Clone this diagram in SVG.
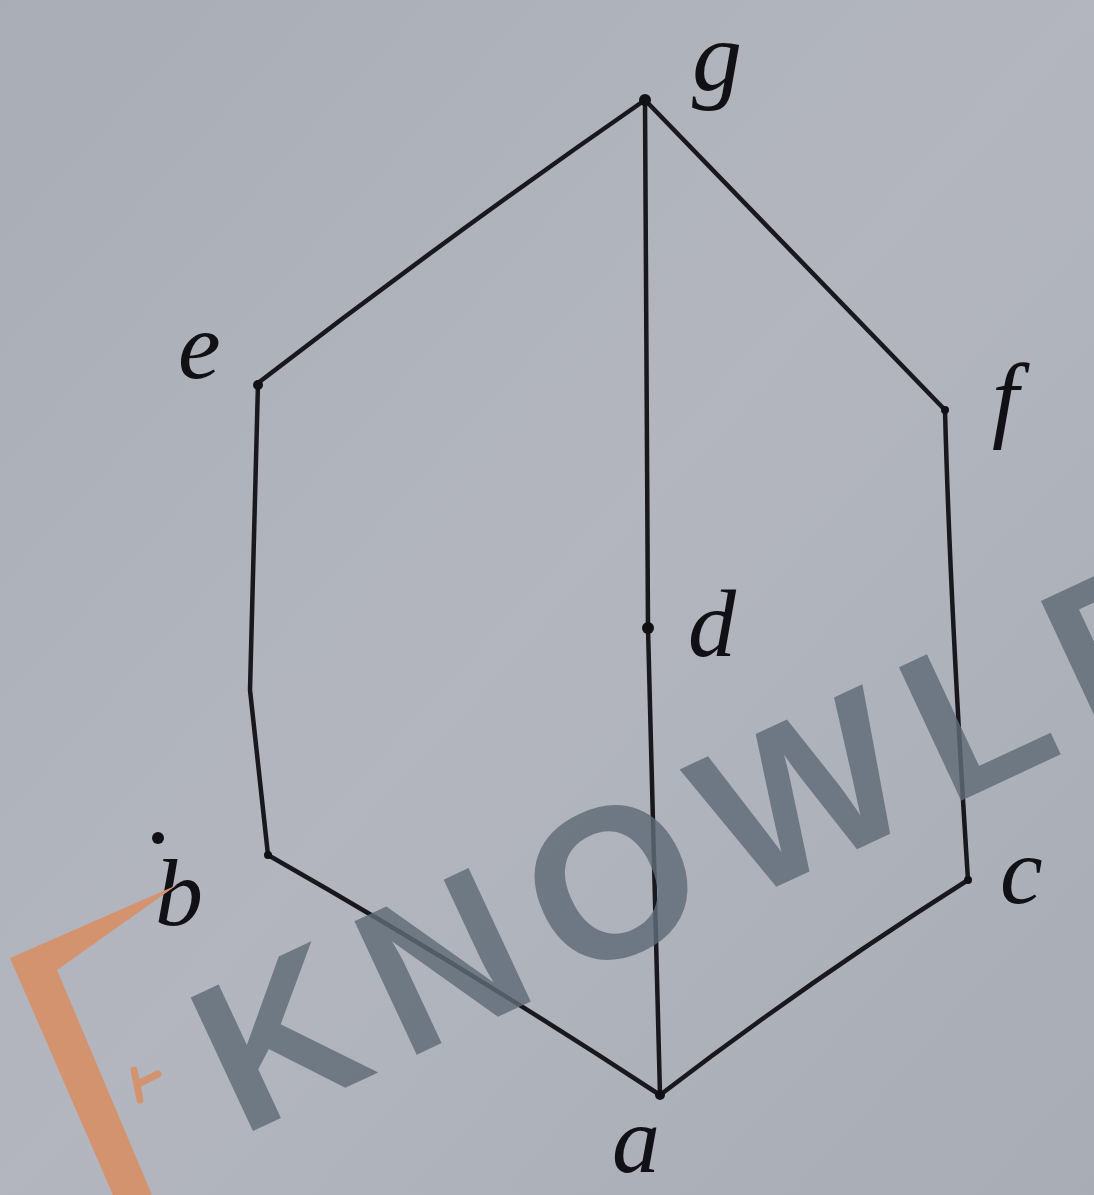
<svg xmlns="http://www.w3.org/2000/svg" width="1094" height="1195" viewBox="0 0 1094 1195">
<defs>
<linearGradient id="bg" x1="0" y1="0" x2="1" y2="1">
<stop offset="0" stop-color="#a9adb5"/>
<stop offset="0.5" stop-color="#b3b6be"/>
<stop offset="1" stop-color="#a8acb4"/>
</linearGradient>
<style>
.edge{fill:none;stroke:#18181d;stroke-width:4.5;stroke-linecap:round;stroke-linejoin:round}
.dot{fill:#111115}
.lbl{font-family:"Liberation Serif",serif;font-style:italic;font-size:96px;fill:#111115}
.wm{font-family:"Liberation Sans",Arial,sans-serif;font-weight:bold;font-size:214px;fill:#5f6b77;fill-opacity:0.82;letter-spacing:26px}
</style>
</defs>
<rect width="1094" height="1195" fill="url(#bg)"/>
<g id="connectors">
<path class="edge" d="M645,100 Q450,235 258,383"/>
<path class="edge" d="M645,100 Q800,260 945,410"/>
<path class="edge" d="M945,410 Q950,600 968,880"/>
<path class="edge" d="M258,383 L250,690 L268,855"/>
<path class="edge" d="M268,855 Q470,970 660,1095"/>
<path class="edge" d="M968,880 Q810,980 660,1095"/>
<path class="edge" d="M645,100 L648,628 L660,1095"/>
</g>
<g id="node-g"><circle class="dot" cx="645" cy="100" r="6"/><text class="lbl" x="692" y="90" style="font-size:100px">g</text></g>
<g id="node-e"><circle class="dot" cx="258" cy="385" r="5"/><text class="lbl" x="178" y="378">e</text></g>
<g id="node-f"><circle class="dot" cx="945" cy="410" r="4"/><text class="lbl" x="992" y="430">f</text></g>
<g id="node-d"><circle class="dot" cx="648" cy="628" r="6"/><text class="lbl" x="688" y="656">d</text></g>
<g id="node-b"><circle class="dot" cx="268" cy="855" r="4"/><circle class="dot" cx="158" cy="838" r="6"/><text class="lbl" x="155" y="925">b</text></g>
<g id="node-c"><circle class="dot" cx="968" cy="880" r="4"/><text class="lbl" x="1000" y="903">c</text></g>
<g id="node-a"><circle class="dot" cx="660" cy="1095" r="5"/><text class="lbl" x="612" y="1172">a</text></g>
<g id="watermark">
<polygon points="10,958 177,885 57,970 152,1195 113,1195" fill="#d4936f"/>
<path d="M134,1070 L140,1100 M140,1083 L158,1074" stroke="#d4936f" stroke-width="7" stroke-linecap="round" fill="none"/>
<text class="wm" transform="translate(240,1137) rotate(-25)">KNOWLE</text>
</g>
</svg>
